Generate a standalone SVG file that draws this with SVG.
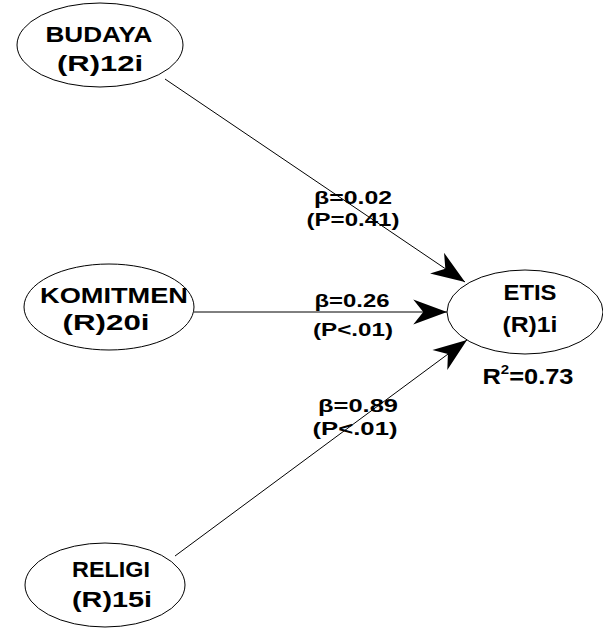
<svg xmlns="http://www.w3.org/2000/svg" width="603" height="628" viewBox="0 0 603 628">
<style>
.n{fill:#fff;stroke:#000;stroke-width:1}
.t{font-family:"Liberation Sans",Arial,sans-serif;font-weight:bold;font-size:22px;fill:#000;text-anchor:middle}
.l{font-size:19px}
.c{stroke:#000;stroke-width:1;fill:none;marker-end:url(#ah)}
</style>
<defs>
<marker id="ah" markerUnits="userSpaceOnUse" markerWidth="40" markerHeight="40" viewBox="-30 -15 32 30" refX="0" refY="0" orient="auto">
<path d="M0,0 L-27,-10 L-19,0 L-27,10 Z" fill="#000"/>
</marker>
</defs>
<rect width="603" height="628" fill="#fff"/>
<g id="connectors">
<line class="c" x1="165" y1="79" x2="465" y2="282"/>
<line class="c" x1="194" y1="312" x2="447" y2="312"/>
<line class="c" x1="175" y1="556" x2="467" y2="340"/>
</g>
<g id="budaya">
<ellipse class="n" cx="100" cy="45" rx="83" ry="42"/>
<text class="t" x="99" y="42" textLength="107" lengthAdjust="spacingAndGlyphs">BUDAYA</text>
<text class="t" x="100" y="71" textLength="86" lengthAdjust="spacingAndGlyphs">(R)12i</text>
</g>
<g id="komitmen">
<ellipse class="n" cx="109" cy="307" rx="85" ry="43"/>
<text class="t" x="114" y="303" textLength="148" lengthAdjust="spacingAndGlyphs">KOMITMEN</text>
<text class="t" x="106" y="330" textLength="87" lengthAdjust="spacingAndGlyphs">(R)20i</text>
</g>
<g id="religi">
<ellipse class="n" cx="105" cy="585" rx="80" ry="42"/>
<text class="t" x="111" y="577" textLength="78" lengthAdjust="spacingAndGlyphs">RELIGI</text>
<text class="t" x="112" y="607" textLength="80" lengthAdjust="spacingAndGlyphs">(R)15i</text>
</g>
<g id="etis">
<ellipse class="n" cx="525" cy="312" rx="78" ry="42"/>
<text class="t" x="530" y="300" textLength="53" lengthAdjust="spacingAndGlyphs">ETIS</text>
<text class="t" x="530" y="332" textLength="55" lengthAdjust="spacingAndGlyphs">(R)1i</text>
<text class="t" x="528" y="384" textLength="91" lengthAdjust="spacingAndGlyphs">R<tspan font-size="13" dy="-10">2</tspan><tspan dy="10">=0.73</tspan></text>
</g>
<g id="labels">
<text class="t l" x="353" y="204" textLength="78" lengthAdjust="spacingAndGlyphs">β=0.02</text>
<text class="t l" x="353" y="226" textLength="93" lengthAdjust="spacingAndGlyphs">(P=0.41)</text>
<text class="t l" x="352" y="307" textLength="75" lengthAdjust="spacingAndGlyphs">β=0.26</text>
<text class="t l" x="353" y="336" textLength="80" lengthAdjust="spacingAndGlyphs">(P&lt;.01)</text>
<text class="t l" x="358" y="412" textLength="80" lengthAdjust="spacingAndGlyphs">β=0.89</text>
<text class="t l" x="355" y="435" textLength="85" lengthAdjust="spacingAndGlyphs">(P&lt;.01)</text>
</g>
</svg>
